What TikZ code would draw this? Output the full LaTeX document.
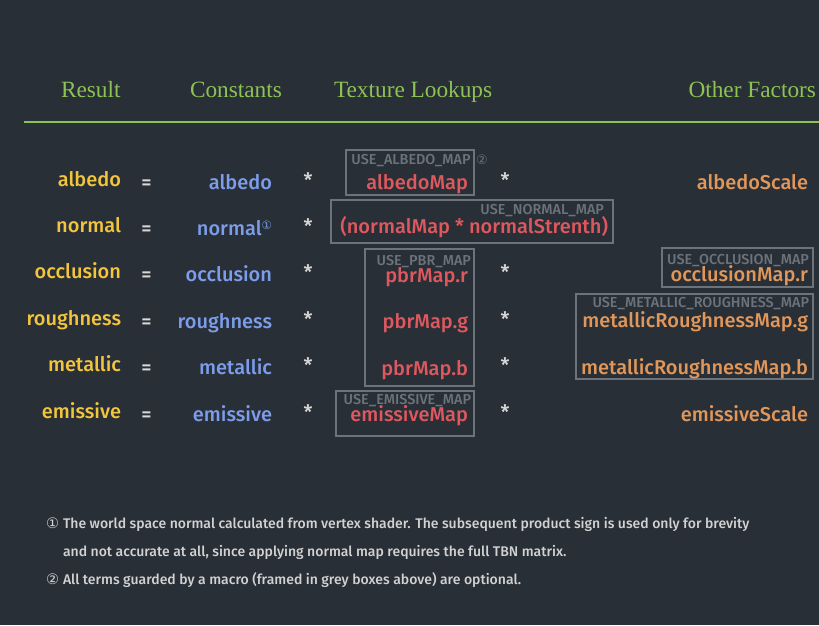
\documentclass[tikz,border=0pt]{standalone}
\usepackage{fontspec}
\setmainfont{Fira Sans Medium}
\newfontfamily\hdr{Liberation Serif}
\newfontfamily\sym{DejaVu Sans}
\definecolor{bg}{HTML}{292F36}
\definecolor{hgreen}{HTML}{8DC255}
\definecolor{ryellow}{HTML}{F2C53D}
\definecolor{cblue}{HTML}{7C9DEB}
\definecolor{tred}{HTML}{E0585F}
\definecolor{oorange}{HTML}{E2975A}
\definecolor{gbox}{HTML}{6C737A}
\definecolor{opwhite}{HTML}{D8D8D8}
\definecolor{fnote}{HTML}{D2D2D2}
\begin{document}
\begin{tikzpicture}[x=1pt,y=-1pt,
  every node/.style={inner sep=0pt, outer sep=0pt},
  head/.style={text=hgreen, font=\hdr\fontsize{23.3}{27}\selectfont, anchor=base},
  main/.style={font=\fontsize{20}{24}\selectfont},
  res/.style={main, text=ryellow, anchor=base east},
  cst/.style={main, text=cblue, anchor=base east},
  tex/.style={main, text=tred, anchor=base east},
  oth/.style={main, text=oorange, anchor=base east},
  op/.style={main, text=opwhite, anchor=base},
  lbl/.style={text=gbox, font=\fontsize{14.4}{16}\selectfont, anchor=base east},
  gframe/.style={draw=gbox, line width=1.3pt},
  fn/.style={text=fnote, font=\fontsize{14}{16}\selectfont, anchor=base west},
  circ/.style={font=\sym\fontsize{14.5}{16}\selectfont}
]
\fill[bg] (0,0) rectangle (819,625);
\useasboundingbox (0,0) rectangle (819,625);

% headers
\node[head, anchor=base west] (hres) at (61,97) {Result};
\node[head, anchor=base west] (hcst) at (190,97) {Constants};
\node[head, anchor=base west] (htex) at (334,97) {Texture Lookups};
\node[head, anchor=base east] (hoth) at (816,97) {Other Factors};
\coordinate (ls) at (24,122);
\coordinate (le) at (819,122);
\draw[hgreen, line width=2pt] (ls) -- (le);

% results
\node[res] (r1) at (121,186) {albedo};
\node[res] (r2) at (121,232.4) {normal};
\node[res] (r3) at (121,278.8) {occlusion};
\node[res] (r4) at (121,325.2) {roughness};
\node[res] (r5) at (121,371.6) {metallic};
\node[res] (r6) at (121,418) {emissive};

% operators
\foreach \i/\y in {1/189,2/235.4,3/281.8,4/328.2,5/374.6,6/421}{
  \node[op] (eq\i) at (146.5,\y) {=};
  \node[op] (sa\i) at (308,\y-2) {*};
}
\foreach \i/\y in {1/189,3/281.8,4/328.2,5/374.6,6/421}{
  \node[op] (sb\i) at (505,\y-2) {*};
}

% constants
\node[cst] (c1) at (272,189) {albedo};
\node[cst] (c2) at (272,235.4) {normal\raisebox{6pt}{\sym\fontsize{11.5}{12}\selectfont ①}};
\node[cst] (c3) at (272,281.8) {occlusion};
\node[cst] (c4) at (272,328.2) {roughness};
\node[cst] (c5) at (272,374.6) {metallic};
\node[cst] (c6) at (272,421) {emissive};

% texture lookups
\draw[gframe] (346,150) rectangle (474,195);
\node[lbl] (l1) at (470.5,164) {USE\_ALBEDO\_MAP};
\node[circ, text=gbox, font=\sym\fontsize{13}{14}\selectfont, anchor=base west] (n2) at (476,164) {②};
\node[tex] (t1) at (468,189.5) {albedoMap};

\draw[gframe] (331,200) rectangle (613,243);
\node[lbl] (l2) at (604,214) {USE\_NORMAL\_MAP};
\node[tex] (t2) at (608,233.5) {(normalMap * normalStrenth)};

\draw[gframe] (365,249) rectangle (474,386);
\node[lbl] (l3) at (471,265) {USE\_PBR\_MAP};
\node[tex] (t3) at (468,282.5) {pbrMap.r};
\node[tex] (t4) at (468,328.8) {pbrMap.g};
\node[tex] (t5) at (468,375.2) {pbrMap.b};

\draw[gframe] (336,391) rectangle (474,436);
\node[lbl] (l4) at (471,404) {USE\_EMISSIVE\_MAP};
\node[tex] (t6) at (468,421.5) {emissiveMap};

% other factors
\node[oth] (o1) at (808,189) {albedoScale};
\draw[gframe] (662,248) rectangle (813,287);
\node[lbl] (l5) at (809,264) {USE\_OCCLUSION\_MAP};
\node[oth] (o3) at (808,281.5) {occlusionMap.r};
\draw[gframe] (576,294) rectangle (813,379);
\node[lbl] (l6) at (809,307) {USE\_METALLIC\_ROUGHNESS\_MAP};
\node[oth] (o4) at (808,327.5) {metallicRoughnessMap.g};
\node[oth] (o5) at (808,374.5) {metallicRoughnessMap.b};
\node[oth] (o6) at (808,421) {emissiveScale};

% footnotes
\node[circ, text=fnote, anchor=base west] (f1n) at (46,528) {①};
\node[fn] (f1) at (63,528) {The world space normal calculated from vertex shader. The subsequent product sign is used only for brevity};
\node[fn] (f1b) at (63,556) {and not accurate at all, since applying normal map requires the full TBN matrix.};
\node[circ, text=fnote, anchor=base west] (f2n) at (46,584) {②};
\node[fn] (f2) at (63,584) {All terms guarded by a macro (framed in grey boxes above) are optional.};
\end{tikzpicture}
\end{document}
